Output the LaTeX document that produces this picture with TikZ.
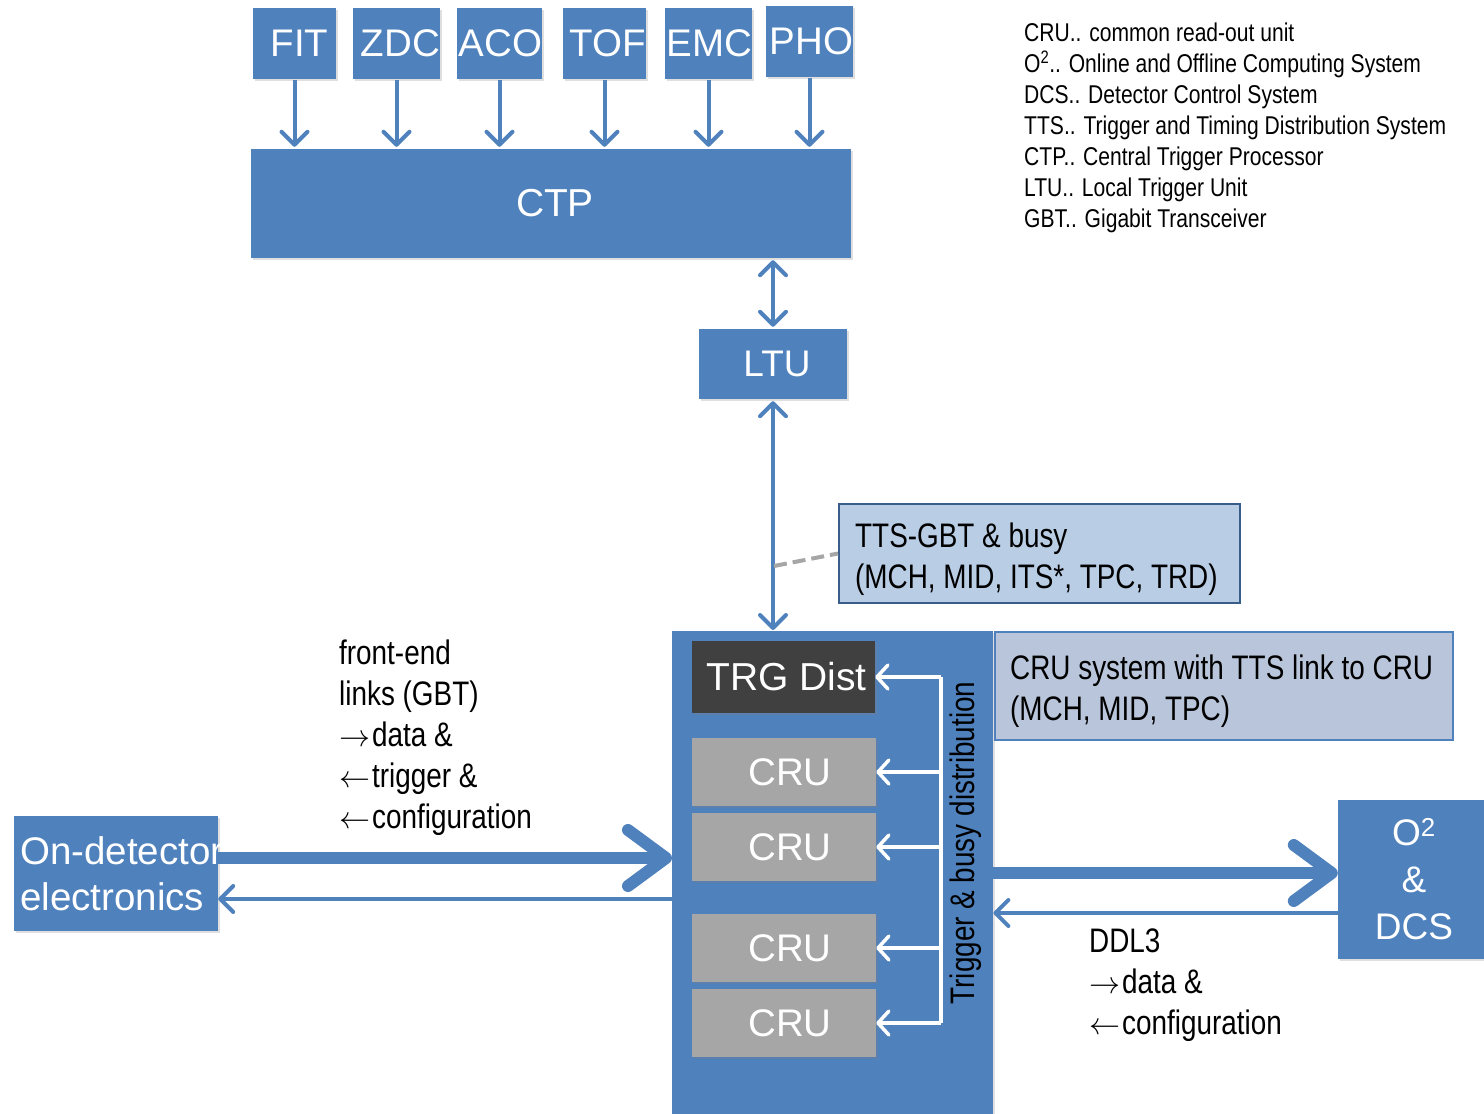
\documentclass[tikz,border=0pt]{standalone}
\usepackage{fontspec}
\setmainfont{Liberation Sans}
\newfontfamily\narrowfont[FakeStretch=0.82]{Liberation Sans}
\usetikzlibrary{arrows.meta,shadows}
\definecolor{ablue}{HTML}{4F81BD}
\definecolor{trgdark}{HTML}{404040}
\definecolor{crugray}{HTML}{A6A6A6}
\definecolor{ttsfill}{HTML}{B9CDE5}
\definecolor{ttsborder}{HTML}{385D8A}
\definecolor{sysfill}{HTML}{B9C5DA}
\definecolor{dashgray}{HTML}{A6A6A6}
\newcommand{\rarr}{\resizebox{31pt}{!}{\ensuremath{\rightarrow}}\hspace{2pt}}
\newcommand{\larr}{\resizebox{31pt}{!}{\ensuremath{\leftarrow}}\hspace{2pt}}
\tikzset{
  shade box/.style={drop shadow={opacity=0.25, shadow xshift=2pt, shadow yshift=-2pt}},
  bluebox/.style={fill=ablue, draw=none, text=white, inner sep=0pt, shade box,
                  font=\fontsize{37}{44}\selectfont},
  detbox/.style={bluebox, minimum width=83, minimum height=71, font=\fontsize{38.5}{44}\selectfont},
  darkbox/.style={fill=trgdark, draw=none, text=white, inner sep=0pt, shade box,
                  minimum width=183, minimum height=72, font=\fontsize{39}{44}\selectfont},
  graybox/.style={fill=crugray, draw=none, text=white, inner sep=0pt, shade box,
                  minimum width=184, minimum height=68, font=\fontsize{38.5}{44}\selectfont},
  lbl/.style={inner sep=0pt, align=left, text=black, font=\narrowfont\fontsize{34}{41}\selectfont},
  legendlbl/.style={inner sep=0pt, align=left, text=black, font=\narrowfont\fontsize{25.7}{31}\selectfont},
  thinarrow/.style={draw=ablue, line width=4, -{Straight Barb[length=13, width=26, round]}},
  dblarrow/.style={draw=ablue, line width=4, {Straight Barb[length=13, width=26, round]}-{Straight Barb[length=13, width=26, round]}},
  fatarrow/.style={draw=ablue, line width=12, -{Straight Barb[length=38, width=56, round]}},
  busline/.style={draw=white, line width=3.5},
  busarrow/.style={draw=white, line width=3.5, -{Straight Barb[length=11, width=24, round]}},
}
\begin{document}
\begin{tikzpicture}[x=1pt,y=-1pt]
\useasboundingbox (0,0) rectangle (1484,1114);

% detector boxes
\node[detbox] (fit) at (294.5,43.5) {\hspace*{10pt}FIT};
\node[detbox] (zdc) at (396.5,43.5) {\hspace*{8pt}ZDC};
\node[detbox] (aco) at (499.5,43.5) {\hspace*{2pt}ACO};
\node[detbox] (tof) at (604.5,43.5) {\hspace*{6pt}TOF};
\node[detbox] (emc) at (708.5,43.5) {\hspace*{2pt}EMC};
\node[detbox] (pho) at (809.5,41.5) {\hspace*{4pt}PHO};

% CTP and LTU
\node[bluebox, minimum width=600, minimum height=109, font=\fontsize{39}{44}\selectfont] (ctp) at (551,203.5) {\hspace*{8pt}CTP};
\node[bluebox, minimum width=148, minimum height=70, font=\fontsize{37}{44}\selectfont] (ltu) at (773,364) {\hspace*{8pt}LTU};

% CRU system container
\node[bluebox, anchor=north west, minimum width=321, minimum height=484] (sys) at (672,631) {};

\node[darkbox] (trg) at (783.5,677) {\hspace*{6pt}TRG Dist};
\node[graybox] (cru1) at (784,772) {\hspace*{12pt}CRU};
\node[graybox] (cru2) at (784,847) {\hspace*{12pt}CRU};
\node[graybox] (cru3) at (784,948) {\hspace*{12pt}CRU};
\node[graybox] (cru4) at (784,1023) {\hspace*{12pt}CRU};

% trigger & busy distribution bus
\coordinate (bt) at (941,677);
\coordinate (bb) at (941,1023);
\draw[busline] (bt) -- (bb);
\draw[busarrow] (bt) -- (trg.east);
\draw[busarrow] (cru1.east -| bt) -- (cru1.east);
\draw[busarrow] (cru2.east -| bt) -- (cru2.east);
\draw[busarrow] (cru3.east -| bt) -- (cru3.east);
\draw[busarrow] (cru4.east -| bt) -- (cru4.east);
\node[lbl, rotate=90] (buslabel) at (966,843) {Trigger \& busy distribution};

% notes
\node[draw=ttsborder, line width=2, fill=ttsfill, minimum width=401, minimum height=99, inner sep=0pt] (tts) at (1039.5,553.5) {};
\node[lbl, anchor=north west] (ttstext) at (855,523) {TTS-GBT \& busy\\(MCH, MID, ITS*, TPC, TRD)};
\node[draw=ablue, line width=1.5, fill=sysfill, minimum width=458, minimum height=108, inner sep=0pt] (sysnote) at (1224,686) {};
\node[lbl, anchor=north west] (systext) at (1010,655) {CRU system with TTS link to CRU\\(MCH, MID, TPC)};

% on-detector electronics and O2
\node[bluebox, minimum width=204, minimum height=115] (ondet) at (116,873.5) {};
\node[anchor=west, align=left, inner sep=0pt, text=white, font=\fontsize{38.5}{46}\selectfont] (ondettext) at (20,874) {On-detector\\electronics};
\node[bluebox, minimum width=152, minimum height=159, align=center, font=\fontsize{37}{47}\selectfont] (o2) at (1414,879.5) {O\textsuperscript{2}\\\&\\DCS};

% detector -> CTP arrows
\foreach \d in {fit,zdc,aco,tof,emc,pho}
  \draw[thinarrow, shorten >=2pt, shorten <=1pt] (\d.south) -- (\d.south |- ctp.north);

% CTP <-> LTU <-> CRU system
\draw[dblarrow, shorten >=2pt, shorten <=2pt] (ltu.north) -- (ltu.north |- ctp.south);
\draw[dblarrow, shorten >=1pt, shorten <=2pt] (ltu.south) -- (ltu.south |- sys.north);
\coordinate (dashA) at (774,566);
\draw[dashgray, line width=4, dash pattern=on 13pt off 6pt] (dashA) -- (tts.west);

% links
\coordinate (yfe) at (0,858);
\coordinate (yback) at (0,899);
\coordinate (yo2) at (0,873);
\coordinate (yo2b) at (0,913);
\draw[fatarrow] (ondet.east |- yfe) -- (sys.west |- yfe);
\draw[thinarrow] (sys.west |- yback) -- (ondet.east |- yback);
\draw[fatarrow] (sys.east |- yo2) -- (o2.west |- yo2);
\draw[thinarrow] (o2.west |- yo2b) -- (sys.east |- yo2b);

% link labels
\node[lbl, anchor=north west] (felabel) at (339,640) {front-end\\links (GBT)\\\rarr data \&\\\larr trigger \&\\\larr configuration};
\node[lbl, anchor=north west] (ddllabel) at (1089,929) {DDL3\\\rarr data \&\\\larr configuration};

% legend
\node[legendlbl, anchor=north west] (legend) at (1024,23) {CRU.. common read-out unit\\O\textsuperscript{2}.. Online and Offline Computing System\\DCS.. Detector Control System\\TTS.. Trigger and Timing Distribution System\\CTP.. Central Trigger Processor\\LTU.. Local Trigger Unit\\GBT.. Gigabit Transceiver};
\end{tikzpicture}
\end{document}
